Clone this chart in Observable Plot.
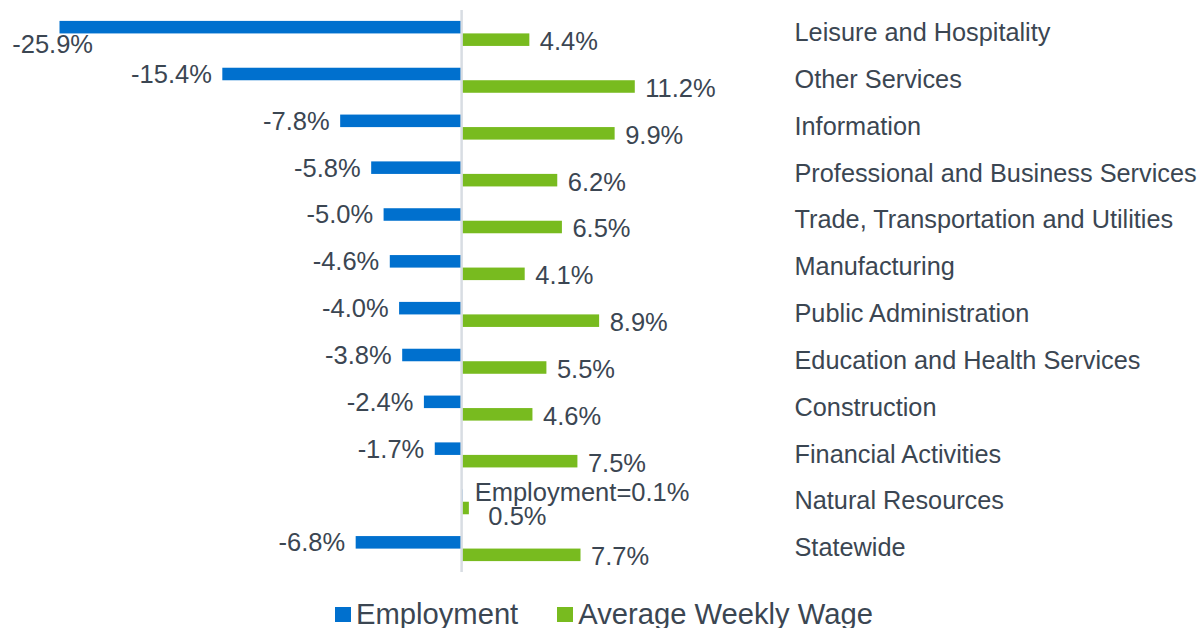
<!DOCTYPE html>
<html>
<head>
<meta charset="utf-8">
<script src="https://cdn.jsdelivr.net/npm/d3@7"></script>
<script src="https://cdn.jsdelivr.net/npm/@observablehq/plot@0.6"></script>
<style>
  html, body { margin: 0; padding: 0; background: #ffffff; }
  body { width: 1199px; height: 628px; overflow: hidden; font-family: "Liberation Sans", Arial, sans-serif; color: #3b4652; }
  #legend { display: flex; justify-content: center; align-items: center; height: 43px; padding-top: 8px; padding-left: 9px; font-size: 29.2px; }
  .item { display: flex; align-items: center; }
  .sw { width: 16px; height: 15px; margin-right: 5px; }
</style>
</head>
<body>
<div id="chart"></div>
<div id="legend"></div>
<script>
const categories = [
  "Leisure and Hospitality",
  "Other Services",
  "Information",
  "Professional and Business Services",
  "Trade, Transportation and Utilities",
  "Manufacturing",
  "Public Administration",
  "Education and Health Services",
  "Construction",
  "Financial Activities",
  "Natural Resources",
  "Statewide"
];
const employment = [-25.9, -15.4, -7.8, -5.8, -5.0, -4.6, -4.0, -3.8, -2.4, -1.7, 0.1, -6.8];
const wage = [4.4, 11.2, 9.9, 6.2, 6.5, 4.1, 8.9, 5.5, 4.6, 7.5, 0.5, 7.7];
const seriesNames = ["Employment", "Average Weekly Wage"];
const seriesColors = ["#0070ce", "#78bb1f"];

const rows = categories.map((c, i) => ({category: c, emp: employment[i], wage: wage[i]}));
const fmt = v => `${v.toFixed(1)}%`;
const minEmp = d3.min(employment);

const empNormal = rows.filter(d => d.emp < 0 && d.emp !== minEmp);
const empOverflow = rows.filter(d => d.emp === minEmp);
const empTiny = rows.filter(d => Math.abs(d.emp) < 0.5);
const wageNormal = rows.filter(d => d.wage >= 1);
const wageTiny = rows.filter(d => d.wage < 1);

const textColor = "#3b4652";
const valueFont = 25.5;

const chart = Plot.plot({
  width: 1199,
  height: 585,
  marginTop: 10,
  marginBottom: 13,
  marginLeft: 59.5,
  marginRight: 420,
  style: {fontFamily: "'Liberation Sans', Arial, sans-serif", color: textColor, background: "transparent"},
  x: {domain: [-25.9, 20.5], axis: null},
  y: {domain: categories, padding: 0, round: false, axis: null},
  marks: [
    Plot.axisY({anchor: "right", tickSize: 0, tickPadding: 15, textAnchor: "start", fontSize: 25.3, label: null, dy: -1}),
    Plot.barX(rows, {x: "emp", y: "category", fill: seriesColors[0], insetTop: 10.9, insetBottom: 23.4}),
    Plot.barX(rows, {x: "wage", y: "category", fill: seriesColors[1], insetTop: 23.4, insetBottom: 10.9}),
    Plot.ruleX([0], {stroke: "#d8dde3", strokeWidth: 2.5}),
    Plot.text(empNormal, {x: "emp", y: "category", text: d => fmt(d.emp), textAnchor: "end", dx: -11, dy: -6, fontSize: valueFont, fill: textColor}),
    Plot.text(empOverflow, {x: "emp", y: "category", text: d => fmt(d.emp), textAnchor: "end", dx: 33, dy: 11, fontSize: valueFont, fill: textColor}),
    Plot.text(empTiny, {x: "emp", y: "category", text: d => `${seriesNames[0]}=${fmt(d.emp)}`, textAnchor: "start", dx: 11.5, dy: -9, fontSize: valueFont, fill: textColor}),
    Plot.text(wageNormal, {x: "wage", y: "category", text: d => fmt(d.wage), textAnchor: "start", dx: 10, dy: 8, fontSize: valueFont, fill: textColor}),
    Plot.text(wageTiny, {x: "wage", y: "category", text: d => fmt(d.wage), textAnchor: "start", dx: 19, dy: 15, fontSize: valueFont, fill: textColor})
  ]
});
document.getElementById("chart").appendChild(chart);

const legend = document.getElementById("legend");
seriesNames.forEach((name, i) => {
  const item = document.createElement("div");
  item.className = "item";
  if (i > 0) item.style.marginLeft = "39px";
  const sw = document.createElement("div");
  sw.className = "sw";
  sw.style.background = seriesColors[i];
  const label = document.createElement("span");
  label.textContent = name;
  item.appendChild(sw);
  item.appendChild(label);
  legend.appendChild(item);
});
</script>
</body>
</html>
